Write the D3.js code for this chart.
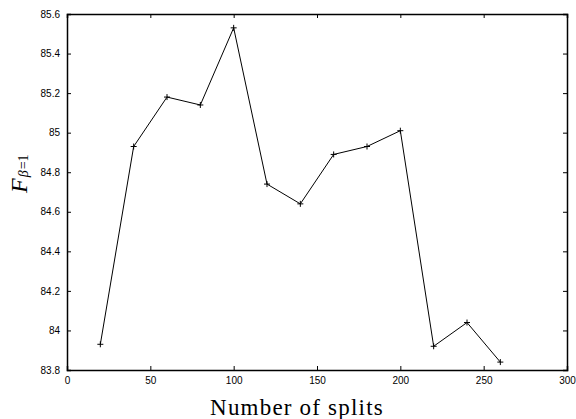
<!DOCTYPE html>
<html lang="en">
<head>
    <script src="https://d3js.org/d3.v7.min.js"></script>
    <style>
        body { margin: 0; background: white; }
    </style>
</head>
<body>
<script>
    // data
    const splits = [20, 40, 60, 80, 100, 120, 140, 160, 180, 200, 220, 240, 260];
    const fscore = [83.93, 84.93, 85.18, 85.14, 85.53, 84.74, 84.64, 84.89, 84.93, 85.01, 83.92, 84.04, 83.84];
    const xTicks = [0, 50, 100, 150, 200, 250, 300];
    const yTicks = [83.8, 84, 84.2, 84.4, 84.6, 84.8, 85, 85.2, 85.4, 85.6];

    const width = 576, height = 419;
    const margin = { left: 67, right: 9, top: 14, bottom: 49 };

    const svg = d3.select("body").append("svg")
        .attr("width", width)
        .attr("height", height);

    const x = d3.scaleLinear().domain([0, 300]).range([margin.left, width - margin.right]);
    const y = d3.scaleLinear().domain([83.8, 85.6]).range([height - margin.bottom, margin.top]);

    const tickLen = 4;
    const font = "'Liberation Sans', Arial, sans-serif";
    const serif = "'Liberation Serif', 'DejaVu Serif', serif";

    // axes, ticks pointing inward, mirrored on top and right
    const axBottom = svg.append("g")
        .attr("transform", "translate(0," + y.range()[0] + ")")
        .call(d3.axisBottom(x).tickValues(xTicks).tickSize(-tickLen).tickPadding(7).tickFormat(d3.format("d")));
    const axTop = svg.append("g")
        .attr("transform", "translate(0," + y.range()[1] + ")")
        .call(d3.axisTop(x).tickValues(xTicks).tickSize(-tickLen).tickFormat(""));
    const axLeft = svg.append("g")
        .attr("transform", "translate(" + x.range()[0] + ",0)")
        .call(d3.axisLeft(y).tickValues(yTicks).tickSize(-tickLen).tickPadding(7).tickFormat(d => +d.toFixed(1) + ""));
    const axRight = svg.append("g")
        .attr("transform", "translate(" + x.range()[1] + ",0)")
        .call(d3.axisRight(y).tickValues(yTicks).tickSize(-tickLen).tickFormat(""));

    [axBottom, axTop, axLeft, axRight].forEach(g => {
        g.select(".domain").attr("stroke", "#000").attr("stroke-width", 1.5);
        g.selectAll(".tick line").attr("stroke", "#000");
        g.selectAll("text").attr("font-family", font).attr("font-size", 10).attr("fill", "#000");
    });

    // series line
    const pts = splits.map((s, i) => [s, fscore[i]]);
    svg.append("path")
        .datum(pts)
        .attr("fill", "none")
        .attr("stroke", "#000")
        .attr("stroke-width", 1)
        .attr("d", d3.line().x(d => x(d[0])).y(d => y(d[1])));

    // plus markers
    svg.selectAll(".pt")
        .data(pts)
        .enter()
        .append("path")
        .attr("class", "pt")
        .attr("transform", d => "translate(" + x(d[0]) + "," + y(d[1]) + ")")
        .attr("d", "M-3,0H3M0,-3V3")
        .attr("stroke", "#000")
        .attr("stroke-width", 1);

    // axis labels
    svg.append("text")
        .attr("x", 297)
        .attr("y", 415)
        .attr("text-anchor", "middle")
        .attr("font-family", serif)
        .attr("font-size", 23)
        .attr("letter-spacing", 1.2)
        .text("Number of splits");

    const yl = svg.append("text")
        .attr("transform", "translate(27,193) rotate(-90)")
        .attr("text-anchor", "start")
        .attr("font-family", serif)
        .attr("font-size", 24);
    yl.append("tspan").attr("font-style", "italic").text("F");
    yl.append("tspan").attr("font-size", 14).attr("dy", 1).attr("dx", 1).attr("font-style", "italic").text("β");
    yl.append("tspan").attr("font-size", 14).attr("dx", 1).text("=1");
</script>
</body>
</html>
